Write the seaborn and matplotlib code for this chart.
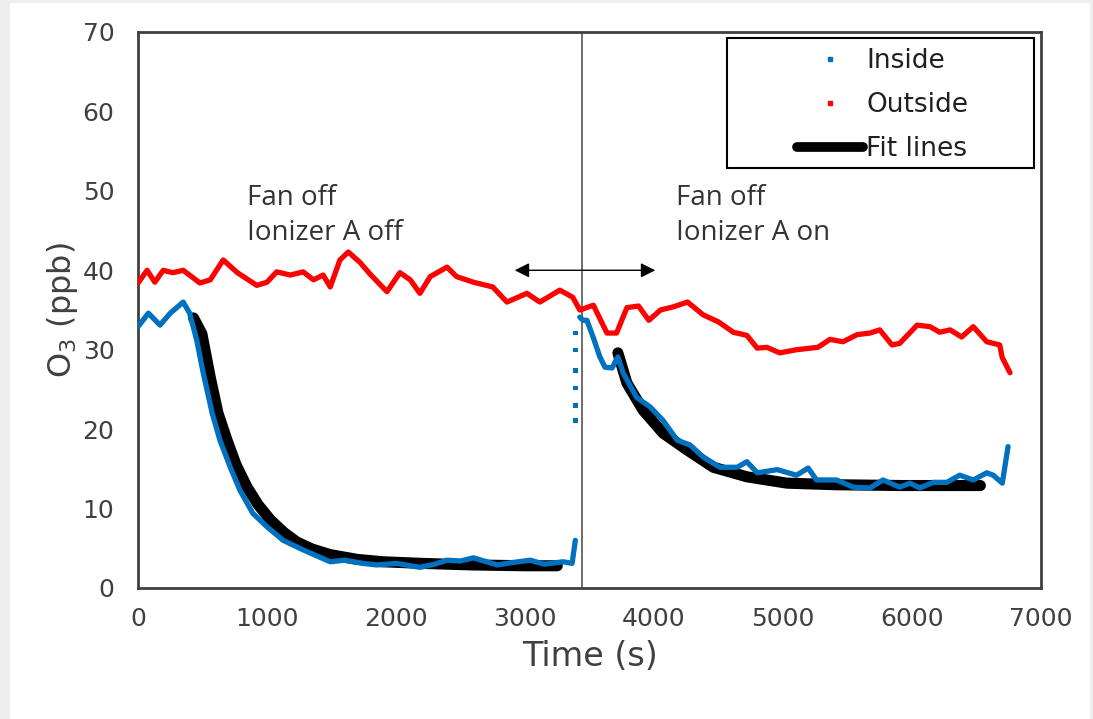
import pandas as pd
import seaborn as sns
import matplotlib.pyplot as plt
from matplotlib.lines import Line2D
from matplotlib.patches import Rectangle

# Outside ozone (red)
out_t = [0, 70, 130, 195, 270, 350, 480, 560, 660, 770, 920, 1000, 1075, 1180, 1280, 1360,
         1435, 1490, 1565, 1630, 1720, 1800, 1930, 2030, 2110, 2185, 2265, 2395, 2470, 2600,
         2750, 2860, 3015, 3115, 3270, 3370, 3425, 3530, 3635, 3710, 3790, 3880, 3960, 4050,
         4150, 4260, 4380, 4500, 4615, 4720, 4800, 4875, 4975, 5105, 5270, 5365, 5465, 5575,
         5675, 5750, 5845, 5905, 6040, 6140, 6215, 6295, 6385, 6475, 6580, 6680, 6700, 6760]
out_o3 = [38.4, 40.0, 38.5, 40.0, 39.7, 40.0, 38.4, 38.8, 41.3, 39.7, 38.1, 38.5, 39.8, 39.4,
          39.8, 38.8, 39.4, 37.9, 41.3, 42.3, 41.0, 39.5, 37.3, 39.7, 38.8, 37.1, 39.2, 40.4,
          39.2, 38.5, 37.9, 36.0, 37.1, 36.0, 37.5, 36.6, 35.0, 35.6, 32.1, 32.1, 35.3, 35.5,
          33.7, 35.0, 35.4, 36.0, 34.4, 33.5, 32.2, 31.8, 30.2, 30.3, 29.6, 30.0, 30.3, 31.3,
          31.0, 31.9, 32.1, 32.5, 30.6, 30.8, 33.1, 32.9, 32.2, 32.5, 31.6, 32.9, 31.0, 30.6,
          29.0, 27.1]

# Inside ozone (blue), ionizer off period
in1_t = [0, 80, 170, 250, 350, 400, 455, 505, 575, 635, 715, 790, 890, 1000, 1125, 1280,
         1490, 1600, 1745, 1850, 2005, 2185, 2300, 2395, 2500, 2600, 2785, 2900, 3040, 3150,
         3295, 3365, 3390]
in1_o3 = [32.9, 34.6, 33.1, 34.6, 36.0, 34.6, 31.2, 27.1, 22.0, 18.6, 15.2, 12.3, 9.4, 7.7,
          6.0, 4.8, 3.3, 3.5, 3.1, 2.9, 3.1, 2.6, 3.0, 3.5, 3.4, 3.8, 2.9, 3.2, 3.5, 3.0,
          3.3, 3.1, 6.0]

# sparse points during the jump between the runs
jump_t = [3390, 3390, 3390, 3390, 3390, 3390]
jump_o3 = [21.1, 23.0, 25.2, 27.4, 30.0, 32.1]

# Inside ozone (blue), ionizer on period
in2_t = [3425, 3450, 3480, 3530, 3580, 3620, 3675, 3720, 3760, 3865, 3970, 4070, 4180, 4280,
         4380, 4510, 4645, 4720, 4800, 4955, 5105, 5195, 5260, 5415, 5545, 5675, 5775, 5905,
         5985, 6060, 6165, 6270, 6370, 6475, 6580, 6630, 6700, 6745]
in2_o3 = [34.1, 33.7, 33.7, 31.5, 29.1, 27.8, 27.7, 29.1, 27.1, 24.0, 22.8, 21.1, 18.6, 18.0,
          16.5, 15.2, 15.2, 15.9, 14.5, 14.9, 14.2, 15.1, 13.6, 13.6, 12.7, 12.6, 13.6, 12.7,
          13.2, 12.6, 13.3, 13.3, 14.2, 13.6, 14.5, 14.2, 13.2, 17.8]

# fit lines
fit1_t = [430, 495, 560, 620, 690, 760, 845, 930, 1025, 1130, 1230, 1350, 1490, 1700, 1900,
          2200, 2600, 3000, 3250]
fit1_o3 = [34.0, 32.0, 26.5, 22.0, 18.6, 15.5, 12.7, 10.5, 8.6, 7.0, 5.8, 4.9, 4.2, 3.6, 3.3,
           3.1, 2.9, 2.8, 2.8]
fit2_t = [3720, 3790, 3915, 4070, 4255, 4460, 4720, 5030, 5415, 5930, 6530]
fit2_o3 = [29.6, 25.8, 22.4, 19.5, 17.4, 15.2, 14.0, 13.2, 13.0, 12.9, 12.9]

blue = '#0070C0'
red = '#FF0000'
grey = '#404040'

sns.set_style('white')
plt.rcParams['font.family'] = ['DejaVu Sans']

fig = plt.figure(figsize=(10.93, 7.19), dpi=100, facecolor='#EEEEEE')
fig.patches.append(Rectangle((0.009, 0), 0.988, 0.996, transform=fig.transFigure,
                             facecolor='white', edgecolor='none', zorder=-10))
ax = fig.add_axes([0.1263, 0.1822, 0.8261, 0.7733])
ax.set_zorder(5)

for t, v in [(fit1_t, fit1_o3), (fit2_t, fit2_o3)]:
    sns.lineplot(x=t, y=v, ax=ax, color='black', lw=8, solid_capstyle='round',
                 sort=False, zorder=2)
for t, v in [(in1_t, in1_o3), (in2_t, in2_o3)]:
    sns.lineplot(x=t, y=v, ax=ax, color=blue, lw=3.8, sort=False, zorder=3)
sns.scatterplot(x=jump_t, y=jump_o3, ax=ax, color=blue, s=10, marker='s',
                edgecolor='none', zorder=3)
sns.lineplot(x=out_t, y=out_o3, ax=ax, color=red, lw=3.8, sort=False, zorder=3)

ax.axvline(3442, color='#555555', lw=1.2, zorder=1)
ax.annotate('', xy=(2920, 40), xytext=(4010, 40),
            arrowprops=dict(arrowstyle='<|-|>', color='black', lw=1,
                            mutation_scale=22, shrinkA=0, shrinkB=0))

ax.text(845, 46.9, 'Fan off\nIonizer A off', fontsize=20, color='#333333', va='center',
        ha='left', linespacing=1.3, family='Open Sans')
ax.text(4170, 46.9, 'Fan off\nIonizer A on', fontsize=20, color='#333333', va='center',
        ha='left', linespacing=1.3, family='Open Sans')

ax.set_xlim(0, 7000)
ax.set_ylim(0, 70)
ax.set_xticks(range(0, 7001, 1000))
ax.set_yticks(range(0, 71, 10))
ax.tick_params(axis='x', direction='in', length=6, width=1.5, color=grey,
               labelsize=18, labelcolor=grey, pad=14)
ax.tick_params(axis='y', direction='in', length=6, width=1.5, color=grey,
               labelsize=18, labelcolor=grey, pad=17)
for s in ax.spines.values():
    s.set_color(grey)
    s.set_linewidth(2)

ax.set_xlabel('Time (s)', fontsize=24, color=grey, labelpad=6)
ax.set_ylabel('O$_3$ (ppb)', fontsize=23, color=grey, labelpad=2)

handles = [
    Line2D([], [], ls='none', marker='s', ms=3, color=blue),
    Line2D([], [], ls='none', marker='s', ms=3, color=red),
    Line2D([], [], color='black', lw=7, solid_capstyle='round'),
]
ax.legend(handles, ['Inside', 'Outside', 'Fit lines'], loc='upper left',
          bbox_to_anchor=(0.7176, 0.990), borderaxespad=0, frameon=False,
          fontsize=19, handlelength=2.5, handletextpad=0.15,
          labelspacing=0.68, borderpad=0.4, labelcolor='#202020')
# legend box is wider than its content in the original
ax.add_patch(Rectangle((0.652, 0.755), 0.340, 0.234, transform=ax.transAxes,
                       facecolor='none', edgecolor='black', lw=1.5, zorder=6))

fig.savefig('out.png', dpi=100, facecolor=fig.get_facecolor())
